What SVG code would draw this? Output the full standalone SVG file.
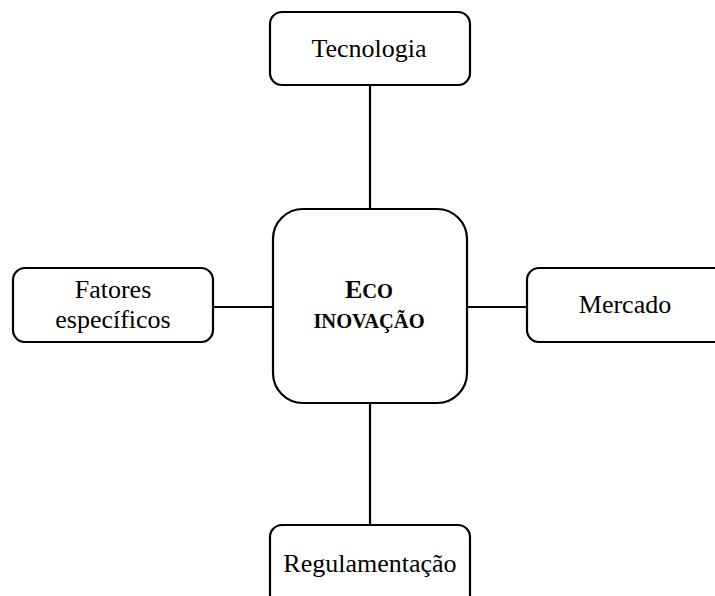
<svg xmlns="http://www.w3.org/2000/svg" width="715" height="596" viewBox="0 0 715 596">
  <style>
    .box { fill: #ffffff; stroke: #000000; stroke-width: 2.2; }
    .link { stroke: #000000; stroke-width: 2.2; fill: none; }
    .lbl { font-family: "Liberation Serif", "Times New Roman", serif; font-size: 26px; fill: #000000; text-anchor: middle; }
    .core { font-family: "Liberation Serif", "Times New Roman", serif; font-weight: bold; fill: #000000; text-anchor: middle; }
  </style>
  <rect width="715" height="596" fill="#ffffff"/>

  <!-- connectors from the central node to the four factors -->
  <g id="connectors">
    <line class="link" x1="370" y1="85" x2="370" y2="209"/>
    <line class="link" x1="370" y1="403" x2="370" y2="525"/>
    <line class="link" x1="213" y1="307" x2="273" y2="307"/>
    <line class="link" x1="467" y1="307" x2="527" y2="307"/>
  </g>

  <g id="node-tecnologia">
    <rect class="box" x="270" y="12" width="200" height="73" rx="12" ry="12"/>
    <text class="lbl" x="369" y="57">Tecnologia</text>
  </g>

  <g id="node-eco-inovacao">
    <rect class="box" x="273" y="209" width="194" height="194" rx="30" ry="30"/>
    <text class="core" x="369" y="298"><tspan font-size="26">E</tspan><tspan font-size="20.5">CO</tspan></text>
    <text class="core" x="369" y="328" font-size="20.5">INOVAÇÃO</text>
  </g>

  <g id="node-fatores">
    <rect class="box" x="13" y="268" width="200" height="74" rx="12" ry="12"/>
    <text class="lbl" x="113" y="298">Fatores</text>
    <text class="lbl" x="113" y="328">específicos</text>
  </g>

  <g id="node-mercado">
    <rect class="box" x="527" y="268" width="220" height="74" rx="12" ry="12"/>
    <text class="lbl" x="625" y="313">Mercado</text>
  </g>

  <g id="node-regulamentacao">
    <rect class="box" x="270" y="525" width="200" height="90" rx="12" ry="12"/>
    <text class="lbl" x="370" y="572">Regulamentação</text>
  </g>
</svg>
